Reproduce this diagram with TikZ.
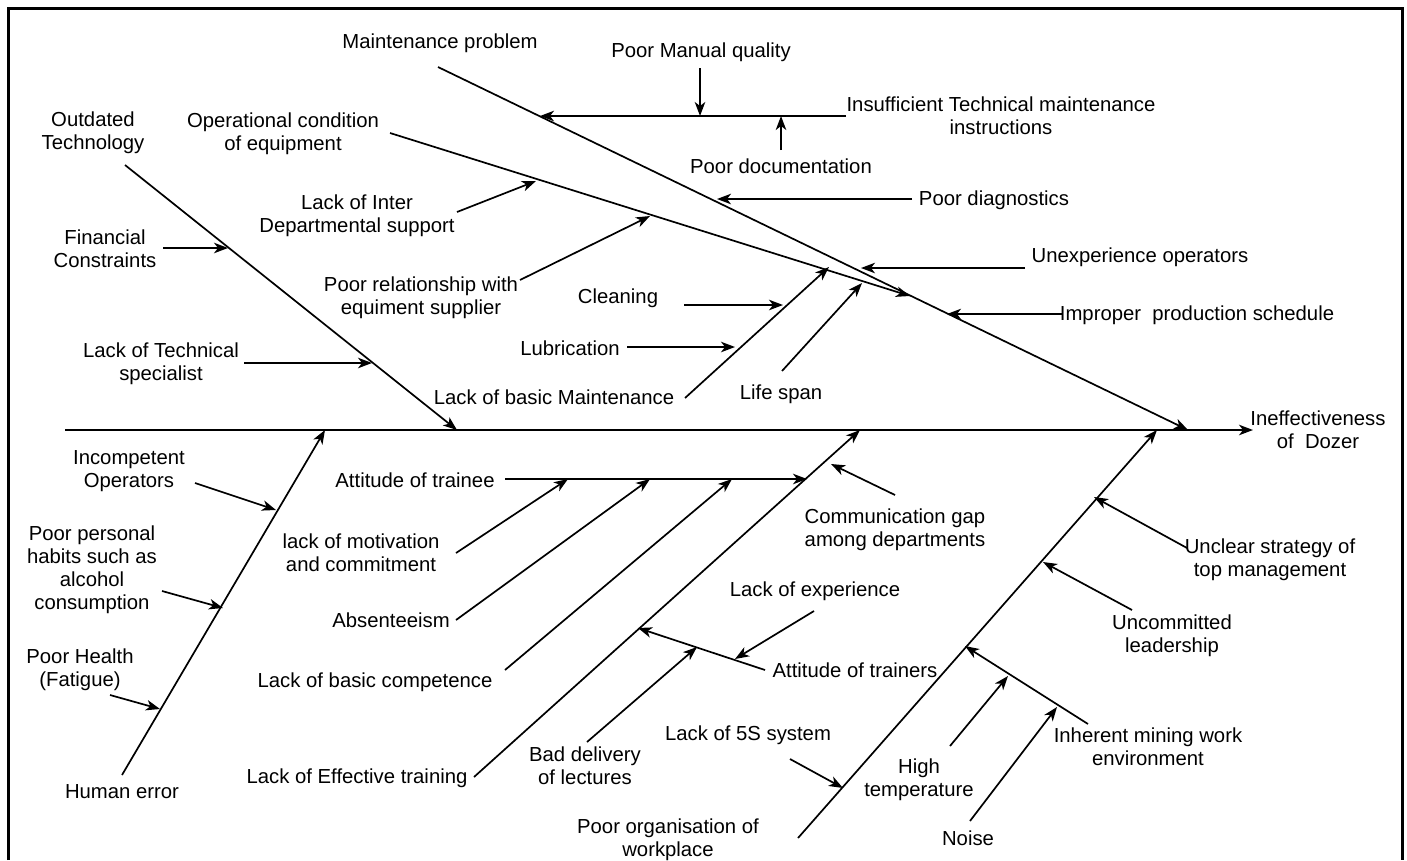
\documentclass[tikz,border=0pt]{standalone}
\usepackage{fontspec}
\setmainfont{Liberation Sans}
\usetikzlibrary{arrows.meta}
\begin{document}
\begin{tikzpicture}[x=1pt,y=-1pt,
  lbl/.style={align=center,inner sep=0pt,font=\fontsize{20.3}{23}\selectfont},
  arr/.style={line width=1.7pt,-{Stealth[length=14pt,width=10.5pt,inset=4pt]}}]
\useasboundingbox (0,0) rectangle (1407,860);
\draw[line width=3pt] (8,860) -- (8,8) -- (1402,8) -- (1402,860);

% ---------- labels ----------
\node[lbl] (effect) at (1318,430) {Ineffectiveness\\of~ Dozer};
\node[lbl] (outdated) at (93,133) {Outdated\\Technology};
\node[lbl] (financial) at (105,249) {Financial\\Constraints};
\node[lbl] (techspec) at (161,364) {Lack of Technical\\specialist};
\node[lbl] (maint) at (440,43) {Maintenance problem};
\node[lbl] (opcond) at (283,134) {Operational condition\\of equipment};
\node[lbl] (interdep) at (357,216) {Lack of Inter\\Departmental support};
\node[lbl] (poorrel) at (421,298) {Poor relationship with\\equiment supplier};
\node[lbl] (basicmaint) at (554,397) {Lack of basic Maintenance};
\node[lbl] (cleaning) at (618,298) {Cleaning};
\node[lbl] (lubrication) at (570,348) {Lubrication};
\node[lbl] (lifespan) at (781,394) {Life span};
\node[lbl] (manual) at (701,52) {Poor Manual quality};
\node[lbl] (insuff) at (1001,116) {Insufficient Technical maintenance\\instructions};
\node[lbl] (doc) at (781,166) {Poor documentation};
\node[lbl] (diag) at (994,200) {Poor diagnostics};
\node[lbl] (unexp) at (1140,257) {Unexperience operators};
\node[lbl] (improper) at (1197,315) {Improper~ production schedule};

\node[lbl] (humanerr) at (122,792) {Human error};
\node[lbl] (incomp) at (129,471) {Incompetent\\Operators};
\node[lbl] (habits) at (92,570) {Poor personal\\habits such as\\alcohol\\consumption};
\node[lbl] (health) at (80,670) {Poor Health\\(Fatigue)};
\node[lbl] (efftrain) at (357,778) {Lack of Effective training};
\node[lbl] (attrainee) at (415,480) {Attitude of trainee};
\node[lbl] (motivation) at (361,553) {lack of motivation\\and commitment};
\node[lbl] (absent) at (391,620) {Absenteeism};
\node[lbl] (competence) at (375,682) {Lack of basic competence};
\node[lbl] (commgap) at (895,530) {Communication gap\\among departments};
\node[lbl] (lackexp) at (815,591) {Lack of experience};
\node[lbl] (attrainers) at (855,670) {Attitude of trainers};
\node[lbl] (baddel) at (585,766) {Bad delivery\\of lectures};
\node[lbl] (lack5s) at (748,735) {Lack of 5S system};
\node[lbl] (poororg) at (668,840) {Poor organisation of\\workplace};
\node[lbl] (hightemp) at (919,780) {High\\temperature};
\node[lbl] (noise) at (968,838) {Noise};
\node[lbl] (inherent) at (1148,747) {Inherent mining work\\environment};
\node[lbl] (uncommitted) at (1172,636) {Uncommitted\\leadership};
\node[lbl] (unclear) at (1270,560) {Unclear strategy of\\top management};

% ---------- coordinates ----------
\coordinate (sp0) at (65,430);   \coordinate (sp1) at (1253,430);
\coordinate (ot0) at (125,165);  \coordinate (ot1) at (457,430);
\coordinate (fc0) at (163,248);  \coordinate (fc1) at (228,248);
\coordinate (ts0) at (244,363);  \coordinate (ts1) at (372,363);
\coordinate (mp0) at (438,67);   \coordinate (mp1) at (1188,430);
\coordinate (in0) at (846,116);  \coordinate (in1) at (540,116);
\coordinate (mq0) at (700,68);   \coordinate (mq1) at (700,116);
\coordinate (pd0) at (781,150);  \coordinate (pd1) at (781,116);
\coordinate (dg0) at (912,199);  \coordinate (dg1) at (717,199);
\coordinate (ue0) at (1025,268); \coordinate (ue1) at (861,268);
\coordinate (ip0) at (1062,314); \coordinate (ip1) at (947,314);
\coordinate (oc0) at (390,133);  \coordinate (oc1) at (910,296);
\coordinate (id0) at (457,212);  \coordinate (id1) at (536,181);
\coordinate (pr0) at (520,280);  \coordinate (pr1) at (650,216);
\coordinate (bm0) at (685,398);  \coordinate (bm1) at (829,267);
\coordinate (cl0) at (684,305);  \coordinate (cl1) at (783,305);
\coordinate (lu0) at (627,347);  \coordinate (lu1) at (735,347);
\coordinate (ls0) at (782,371);  \coordinate (ls1) at (862,283);

\coordinate (he0) at (122,775);  \coordinate (he1) at (325,430);
\coordinate (io0) at (195,483);  \coordinate (io1) at (276,510);
\coordinate (hb0) at (162,591);  \coordinate (hb1) at (223,608);
\coordinate (ph0) at (110,695);  \coordinate (ph1) at (160,709);
\coordinate (et0) at (474,777);  \coordinate (et1) at (860,430);
\coordinate (at0) at (505,479);  \coordinate (at1) at (807,479);
\coordinate (mo0) at (456,553);  \coordinate (mo1) at (568,479);
\coordinate (ab0) at (456,620);  \coordinate (ab1) at (650,479);
\coordinate (co0) at (505,670);  \coordinate (co1) at (732,479);
\coordinate (cg0) at (895,495);  \coordinate (cg1) at (831,464);
\coordinate (tr0) at (765,670);  \coordinate (tr1) at (638,628);
\coordinate (le0) at (814,611);  \coordinate (le1) at (735,659);
\coordinate (bd0) at (587,742);  \coordinate (bd1) at (697,647);
\coordinate (po0) at (798,838);  \coordinate (po1) at (1157,430);
\coordinate (s50) at (790,759);  \coordinate (s51) at (843,788);
\coordinate (us0) at (1187,548); \coordinate (us1) at (1094,497);
\coordinate (ul0) at (1132,610); \coordinate (ul1) at (1043,562);
\coordinate (ih0) at (1088,724); \coordinate (ih1) at (965,646);
\coordinate (ht0) at (950,746);  \coordinate (ht1) at (1008,676);
\coordinate (no0) at (970,821);  \coordinate (no1) at (1057,707);

% ---------- connectors ----------
\draw[arr] (sp0) -- (sp1);
\draw[arr] (ot0) -- (ot1);
\draw[arr] (fc0) -- (fc1);
\draw[arr] (ts0) -- (ts1);
\draw[arr] (mp0) -- (mp1);
\draw[arr] (in0) -- (in1);
\draw[arr] (mq0) -- (mq1);
\draw[arr] (pd0) -- (pd1);
\draw[arr] (dg0) -- (dg1);
\draw[arr] (ue0) -- (ue1);
\draw[arr] (ip0) -- (ip1);
\draw[arr] (oc0) -- (oc1);
\draw[arr] (id0) -- (id1);
\draw[arr] (pr0) -- (pr1);
\draw[arr] (bm0) -- (bm1);
\draw[arr] (cl0) -- (cl1);
\draw[arr] (lu0) -- (lu1);
\draw[arr] (ls0) -- (ls1);

\draw[arr] (he0) -- (he1);
\draw[arr] (io0) -- (io1);
\draw[arr] (hb0) -- (hb1);
\draw[arr] (ph0) -- (ph1);
\draw[arr] (et0) -- (et1);
\draw[arr] (at0) -- (at1);
\draw[arr] (mo0) -- (mo1);
\draw[arr] (ab0) -- (ab1);
\draw[arr] (co0) -- (co1);
\draw[arr] (cg0) -- (cg1);
\draw[arr] (tr0) -- (tr1);
\draw[arr] (le0) -- (le1);
\draw[arr] (bd0) -- (bd1);
\draw[arr] (po0) -- (po1);
\draw[arr] (s50) -- (s51);
\draw[arr] (us0) -- (us1);
\draw[arr] (ul0) -- (ul1);
\draw[arr] (ih0) -- (ih1);
\draw[arr] (ht0) -- (ht1);
\draw[arr] (no0) -- (no1);
\end{tikzpicture}
\end{document}
